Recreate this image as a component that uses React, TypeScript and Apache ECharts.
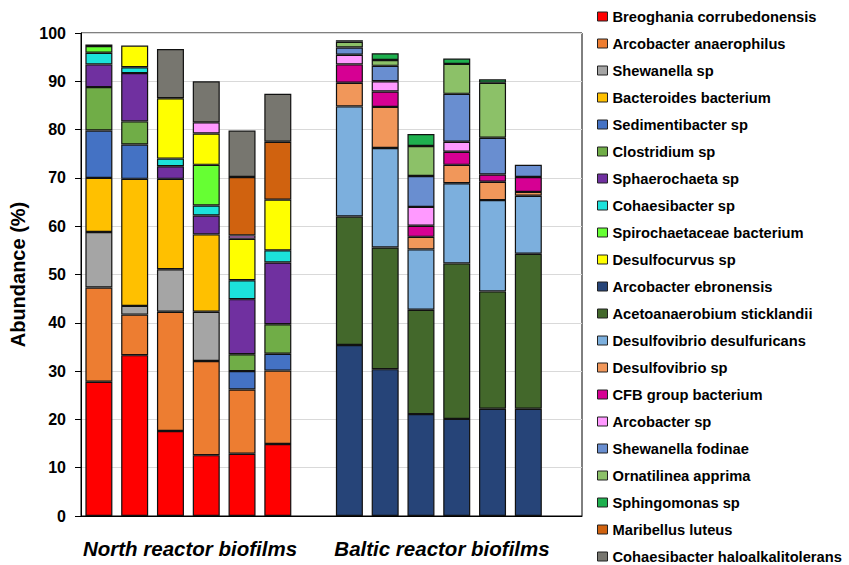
import React, { useEffect, useRef } from "react";
import * as echarts from "echarts";

// Samples: six North reactor biofilms, a spacer, six Baltic reactor biofilms, a spacer
const northSamples = ["N1", "N2", "N3", "N4", "N5", "N6"];
const balticSamples = ["B1", "B2", "B3", "B4", "B5", "B6"];
const categories = [...northSamples, "sep1", ...balticSamples, "sep2"];

const yTicks = [0, 10, 20, 30, 40, 50, 60, 70, 80, 90, 100];

// Relative abundance (%) of each taxon per sample, stacked bottom to top
const breoghaniaN = [27.8, 33.3, 17.6, 12.6, 12.9, 14.9];
const arcobacterAnaerophilusN = [19.5, 8.4, 24.7, 19.5, 13.3, 15.2];
const shewanellaSpN = [11.5, 1.8, 8.8, 10.2, null, null];
const bacteroidesN = [11.2, 26.3, 18.7, 16.0, null, null];
const sedimentibacterN = [9.8, 7.1, null, null, 3.8, 3.5];
const clostridiumN = [9.0, 4.8, null, null, 3.5, 6.1];
const sphaerochaetaN = [4.7, 10.0, 2.6, 3.9, 11.4, 12.8];
const cohaesibacterSpN = [2.4, 1.2, 1.6, 2.1, 3.9, 2.5];
const spirochaetaceaeN = [1.4, null, null, 8.4, null, null];
const desulfocurvusN = [0.3, 4.5, 12.5, 6.5, 8.6, 10.5];
const arcobacterSpN = [null, null, null, 2.3, 0.7, null];
const maribellusN = [null, null, null, null, 12.1, 12.0];
const cohaesibacterHaloN = [null, null, 10.2, 8.5, 9.6, 9.9];

const arcobacterEbronensisB = [35.4, 30.4, 21.1, 20.1, 22.2, 22.2];
const acetoanaerobiumB = [26.6, 25.2, 21.6, 32.2, 24.3, 32.1];
const dvDesulfuricansB = [22.8, 20.6, 12.5, 16.6, 18.9, 12.0];
const desulfovibrioSpB = [4.9, 8.5, 2.6, 3.8, 3.8, 0.8];
const cfbB = [3.8, 3.2, 2.3, 2.7, 1.5, 3.1];
const arcobacterSpB = [2.0, 2.1, 3.9, 2.1, null, null];
const shewanellaFodinaeB = [1.5, 3.2, 6.4, 9.9, 7.6, 2.5];
const ornatilineaB = [1.2, 1.2, 6.2, 6.2, 11.4, null];
const sphingomonasB = [0.3, 1.4, 2.5, 1.1, 0.7, null];

const none = [null, null, null, null, null, null];

type Taxon = { name: string; color: string; north: (number | null)[]; baltic: (number | null)[] };

const taxa: Taxon[] = [
  { name: "Breoghania corrubedonensis", color: "#FF0000", north: breoghaniaN, baltic: none },
  { name: "Arcobacter anaerophilus", color: "#ED7D31", north: arcobacterAnaerophilusN, baltic: none },
  { name: "Shewanella sp", color: "#A5A5A5", north: shewanellaSpN, baltic: none },
  { name: "Bacteroides bacterium", color: "#FFC000", north: bacteroidesN, baltic: none },
  { name: "Sedimentibacter sp", color: "#4472C4", north: sedimentibacterN, baltic: none },
  { name: "Clostridium sp", color: "#70AD47", north: clostridiumN, baltic: none },
  { name: "Sphaerochaeta sp", color: "#7030A0", north: sphaerochaetaN, baltic: none },
  { name: "Cohaesibacter sp", color: "#1CE2DB", north: cohaesibacterSpN, baltic: none },
  { name: "Spirochaetaceae bacterium", color: "#66FF33", north: spirochaetaceaeN, baltic: none },
  { name: "Desulfocurvus sp", color: "#FFFF00", north: desulfocurvusN, baltic: none },
  { name: "Arcobacter ebronensis", color: "#264478", north: none, baltic: arcobacterEbronensisB },
  { name: "Acetoanaerobium sticklandii", color: "#43682B", north: none, baltic: acetoanaerobiumB },
  { name: "Desulfovibrio desulfuricans", color: "#7CAFDD", north: none, baltic: dvDesulfuricansB },
  { name: "Desulfovibrio sp", color: "#F1975A", north: none, baltic: desulfovibrioSpB },
  { name: "CFB group bacterium", color: "#D60093", north: none, baltic: cfbB },
  { name: "Arcobacter sp", color: "#FF99FF", north: arcobacterSpN, baltic: arcobacterSpB },
  { name: "Shewanella fodinae", color: "#698ED0", north: none, baltic: shewanellaFodinaeB },
  { name: "Ornatilinea apprima", color: "#8CC168", north: none, baltic: ornatilineaB },
  { name: "Sphingomonas sp", color: "#1EB04E", north: none, baltic: sphingomonasB },
  { name: "Maribellus luteus", color: "#D0620F", north: maribellusN, baltic: none },
  { name: "Cohaesibacter haloalkalitolerans", color: "#77766F", north: cohaesibacterHaloN, baltic: none },
];

const groupLabels = ["North reactor biofilms", "Baltic reactor biofilms"];

const FONT = "'Liberation Sans', Arial, Helvetica, sans-serif";

export default function App() {
  const ref = useRef<HTMLDivElement>(null);

  useEffect(() => {
    if (!ref.current) return;
    const chart = echarts.init(ref.current, undefined, { renderer: "svg" });

    const series = taxa.map((t) => ({
      name: t.name,
      type: "bar",
      stack: "abundance",
      barWidth: 27,
      data: [...t.north, null, ...t.baltic, null],
      itemStyle: { color: t.color, borderColor: "#111", borderWidth: 1.2 },
    }));

    chart.setOption({
      animation: false,
      backgroundColor: "#fff",
      grid: {
        left: 81,
        top: 33,
        width: 501,
        bottom: 49,
        show: true,
        borderColor: "#000",
        borderWidth: 1,
        backgroundColor: "transparent",
      },
      legend: {
        orient: "vertical",
        left: 597,
        top: 9,
        height: 620,
        padding: 0,
        itemWidth: 10,
        itemHeight: 9,
        itemGap: 12,
        itemTextGap: 3,
        selectedMode: false,
        icon: "rect",
        textStyle: { fontFamily: FONT, fontWeight: "bold", fontSize: 14.7, color: "#000" },
        itemStyle: { borderColor: "#222", borderWidth: 1 },
        data: taxa.map((t) => t.name),
      },
      xAxis: {
        type: "category",
        data: categories,
        axisLine: { show: true, lineStyle: { color: "#000", width: 1 } },
        axisTick: { show: false },
        axisLabel: { show: false },
        splitLine: { show: false },
      },
      yAxis: {
        type: "value",
        min: yTicks[0],
        max: yTicks[yTicks.length - 1],
        interval: 10,
        name: "Abundance (%)",
        nameLocation: "middle",
        nameGap: 52,
        nameTextStyle: { fontFamily: FONT, fontWeight: "bold", fontSize: 20, color: "#000" },
        axisLine: { show: true, lineStyle: { color: "#000", width: 1 } },
        axisTick: { show: true, length: 6, lineStyle: { color: "#000" } },
        axisLabel: { fontFamily: FONT, fontWeight: "bold", fontSize: 16, color: "#000", margin: 15 },
        splitLine: { show: true, lineStyle: { color: "#D9D9D9", width: 1 } },
      },
      graphic: [
        {
          type: "text",
          x: 190,
          y: 548,
          style: {
            text: groupLabels[0],
            font: `italic bold 20.5px ${FONT}`,
            fill: "#000",
            align: "center",
            verticalAlign: "middle",
          },
        },
        {
          type: "text",
          x: 442,
          y: 548,
          style: {
            text: groupLabels[1],
            font: `italic bold 20.5px ${FONT}`,
            fill: "#000",
            align: "center",
            verticalAlign: "middle",
          },
        },
      ],
      series,
    });

    return () => chart.dispose();
  }, []);

  return (
    <div
      ref={ref}
      style={{ position: "fixed", left: 0, top: 0, width: 849, height: 565, background: "#fff" }}
    />
  );
}
